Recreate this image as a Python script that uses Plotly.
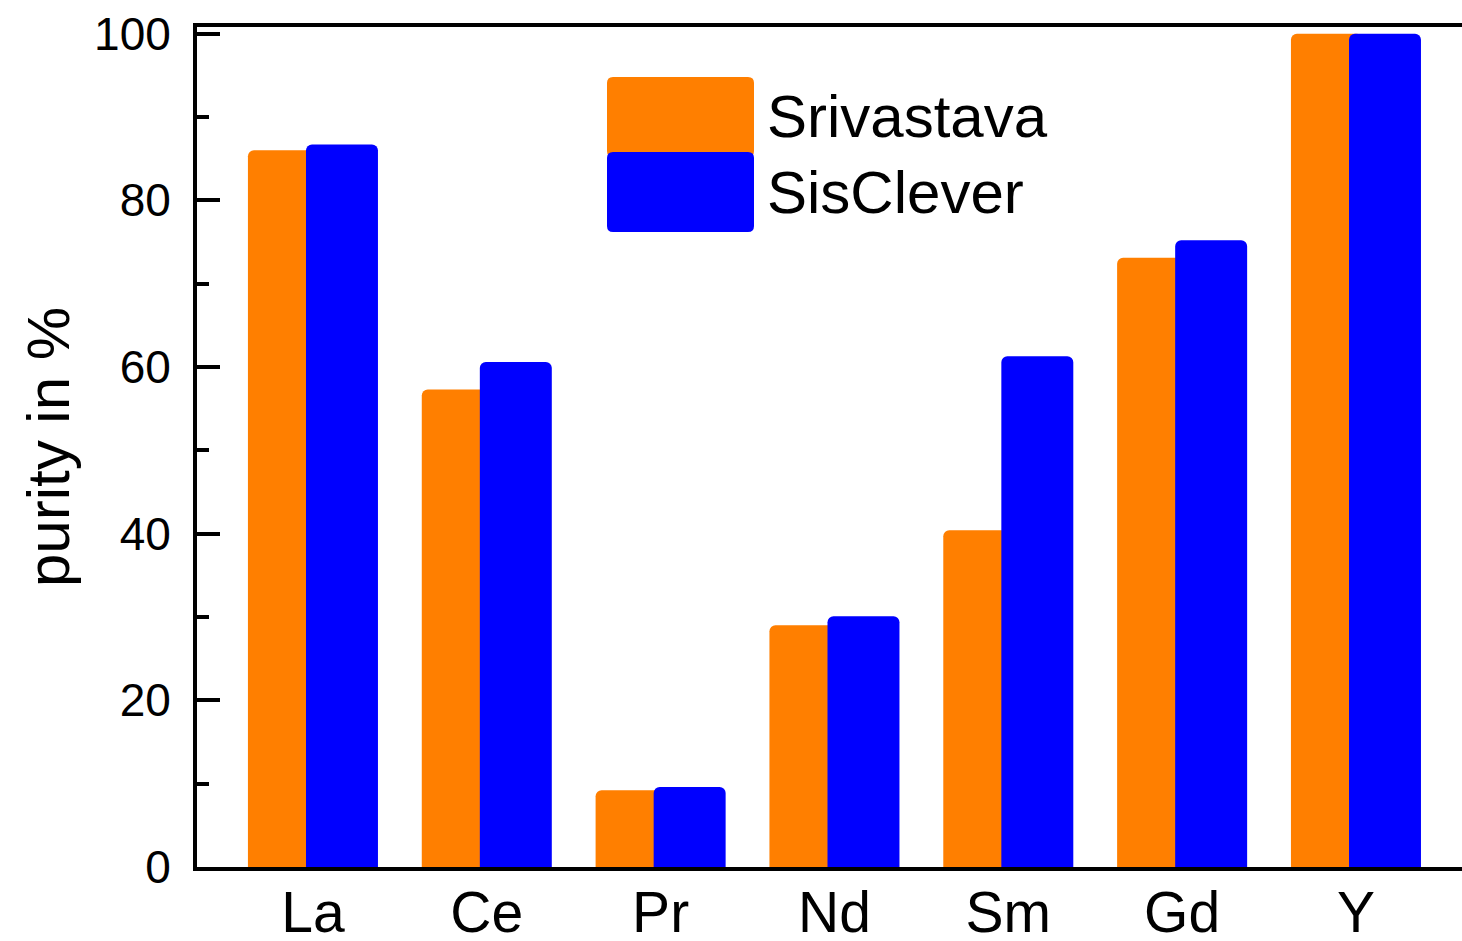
import plotly.graph_objects as go

categories = ["La", "Ce", "Pr", "Nd", "Sm", "Gd", "Y"]
srivastava = [86.0, 57.3, 9.2, 29.0, 40.4, 73.1, 100.0]
sisclever = [86.7, 60.6, 9.6, 30.1, 61.3, 75.2, 100.0]
series_names = ["Srivastava", "SisClever"]
y_ticks = [0, 20, 40, 60, 80, 100]

ORANGE = "#FF7F00"
BLUE = "#0000FF"
FONT = "Arial, Liberation Sans, sans-serif"

W, H = 1462, 941
L, R, T, B = 197, 0, 27, 74
PW, PH = W - L - R, H - T - B

fig = go.Figure()
fig.add_trace(go.Bar(x=categories, y=srivastava, name=series_names[0],
                     marker=dict(color=ORANGE, cornerradius=6, line=dict(width=0)),
                     width=0.414, offset=-0.374))
fig.add_trace(go.Bar(x=categories, y=sisclever, name=series_names[1],
                     marker=dict(color=BLUE, cornerradius=6, line=dict(width=0)),
                     width=0.414, offset=-0.040))


def px_x(p):
    return (p - L) / PW


def px_y(p):
    return (H - B - p) / PH


def rrect(x0, y0, x1, y1, r=6):
    # pixel coords -> rounded rect path in paper coords
    rx, ry = r / PW, r / PH
    a, b_, c, d = px_x(x0), px_y(y1), px_x(x1), px_y(y0)
    return (f"M {a+rx},{b_} L {c-rx},{b_} Q {c},{b_} {c},{b_+ry} "
            f"L {c},{d-ry} Q {c},{d} {c-rx},{d} L {a+rx},{d} Q {a},{d} {a},{d-ry} "
            f"L {a},{b_+ry} Q {a},{b_} {a+rx},{b_} Z")


shapes = [
    dict(type="path", xref="paper", yref="paper", path=rrect(607, 77, 754, 157),
         fillcolor=ORANGE, line=dict(width=0), layer="above"),
    dict(type="path", xref="paper", yref="paper", path=rrect(607, 152, 754, 232),
         fillcolor=BLUE, line=dict(width=0), layer="above"),
]
annotations = [
    dict(text=series_names[0], x=px_x(765), y=px_y(117), xref="paper", yref="paper",
         xanchor="left", yanchor="middle", showarrow=False,
         font=dict(family=FONT, size=60, color="black")),
    dict(text=series_names[1], x=px_x(765), y=px_y(193), xref="paper", yref="paper",
         xanchor="left", yanchor="middle", showarrow=False,
         font=dict(family=FONT, size=60, color="black")),
]

fig.update_layout(
    width=W, height=H,
    margin=dict(l=L, r=R, t=T, b=B, autoexpand=False),
    paper_bgcolor="white", plot_bgcolor="white",
    barmode="overlay", showlegend=False,
    shapes=shapes, annotations=annotations,
    font=dict(family=FONT, color="black"),
    xaxis=dict(
        range=[-0.667, 6.61], showgrid=False, zeroline=False,
        showline=True, linecolor="black", linewidth=4, mirror=True,
        ticks="", tickfont=dict(size=57, family=FONT), ticklabelstandoff=-7,
        automargin=False,
    ),
    yaxis=dict(
        range=[0, 100.8], tickvals=y_ticks, showgrid=False, zeroline=False,
        showline=True, linecolor="black", linewidth=4,
        ticks="inside", ticklen=23, tickwidth=4, tickcolor="black",
        minor=dict(ticks="inside", ticklen=12, tickwidth=4, tickcolor="black",
                   dtick=10, tick0=0),
        tickfont=dict(size=46, family=FONT), ticklabelstandoff=13,
        title=dict(text="purity in %", font=dict(size=60, family=FONT), standoff=6),
        automargin=False,
    ),
    yaxis2=dict(
        overlaying="y", side="right", anchor="x", range=[0, 100.8],
        tickvals=y_ticks, showgrid=False, zeroline=False, showline=False,
        ticks="inside", ticklen=12, tickwidth=4, tickcolor="black",
        minor=dict(ticks="inside", ticklen=2, tickwidth=3, tickcolor="black",
                   dtick=10, tick0=0),
        showticklabels=False,
    ),
)

fig.write_html(
    "out.html",
    config={"displayModeBar": False},
    post_script="document.body.style.margin='0';document.body.style.overflow='hidden';",
)
